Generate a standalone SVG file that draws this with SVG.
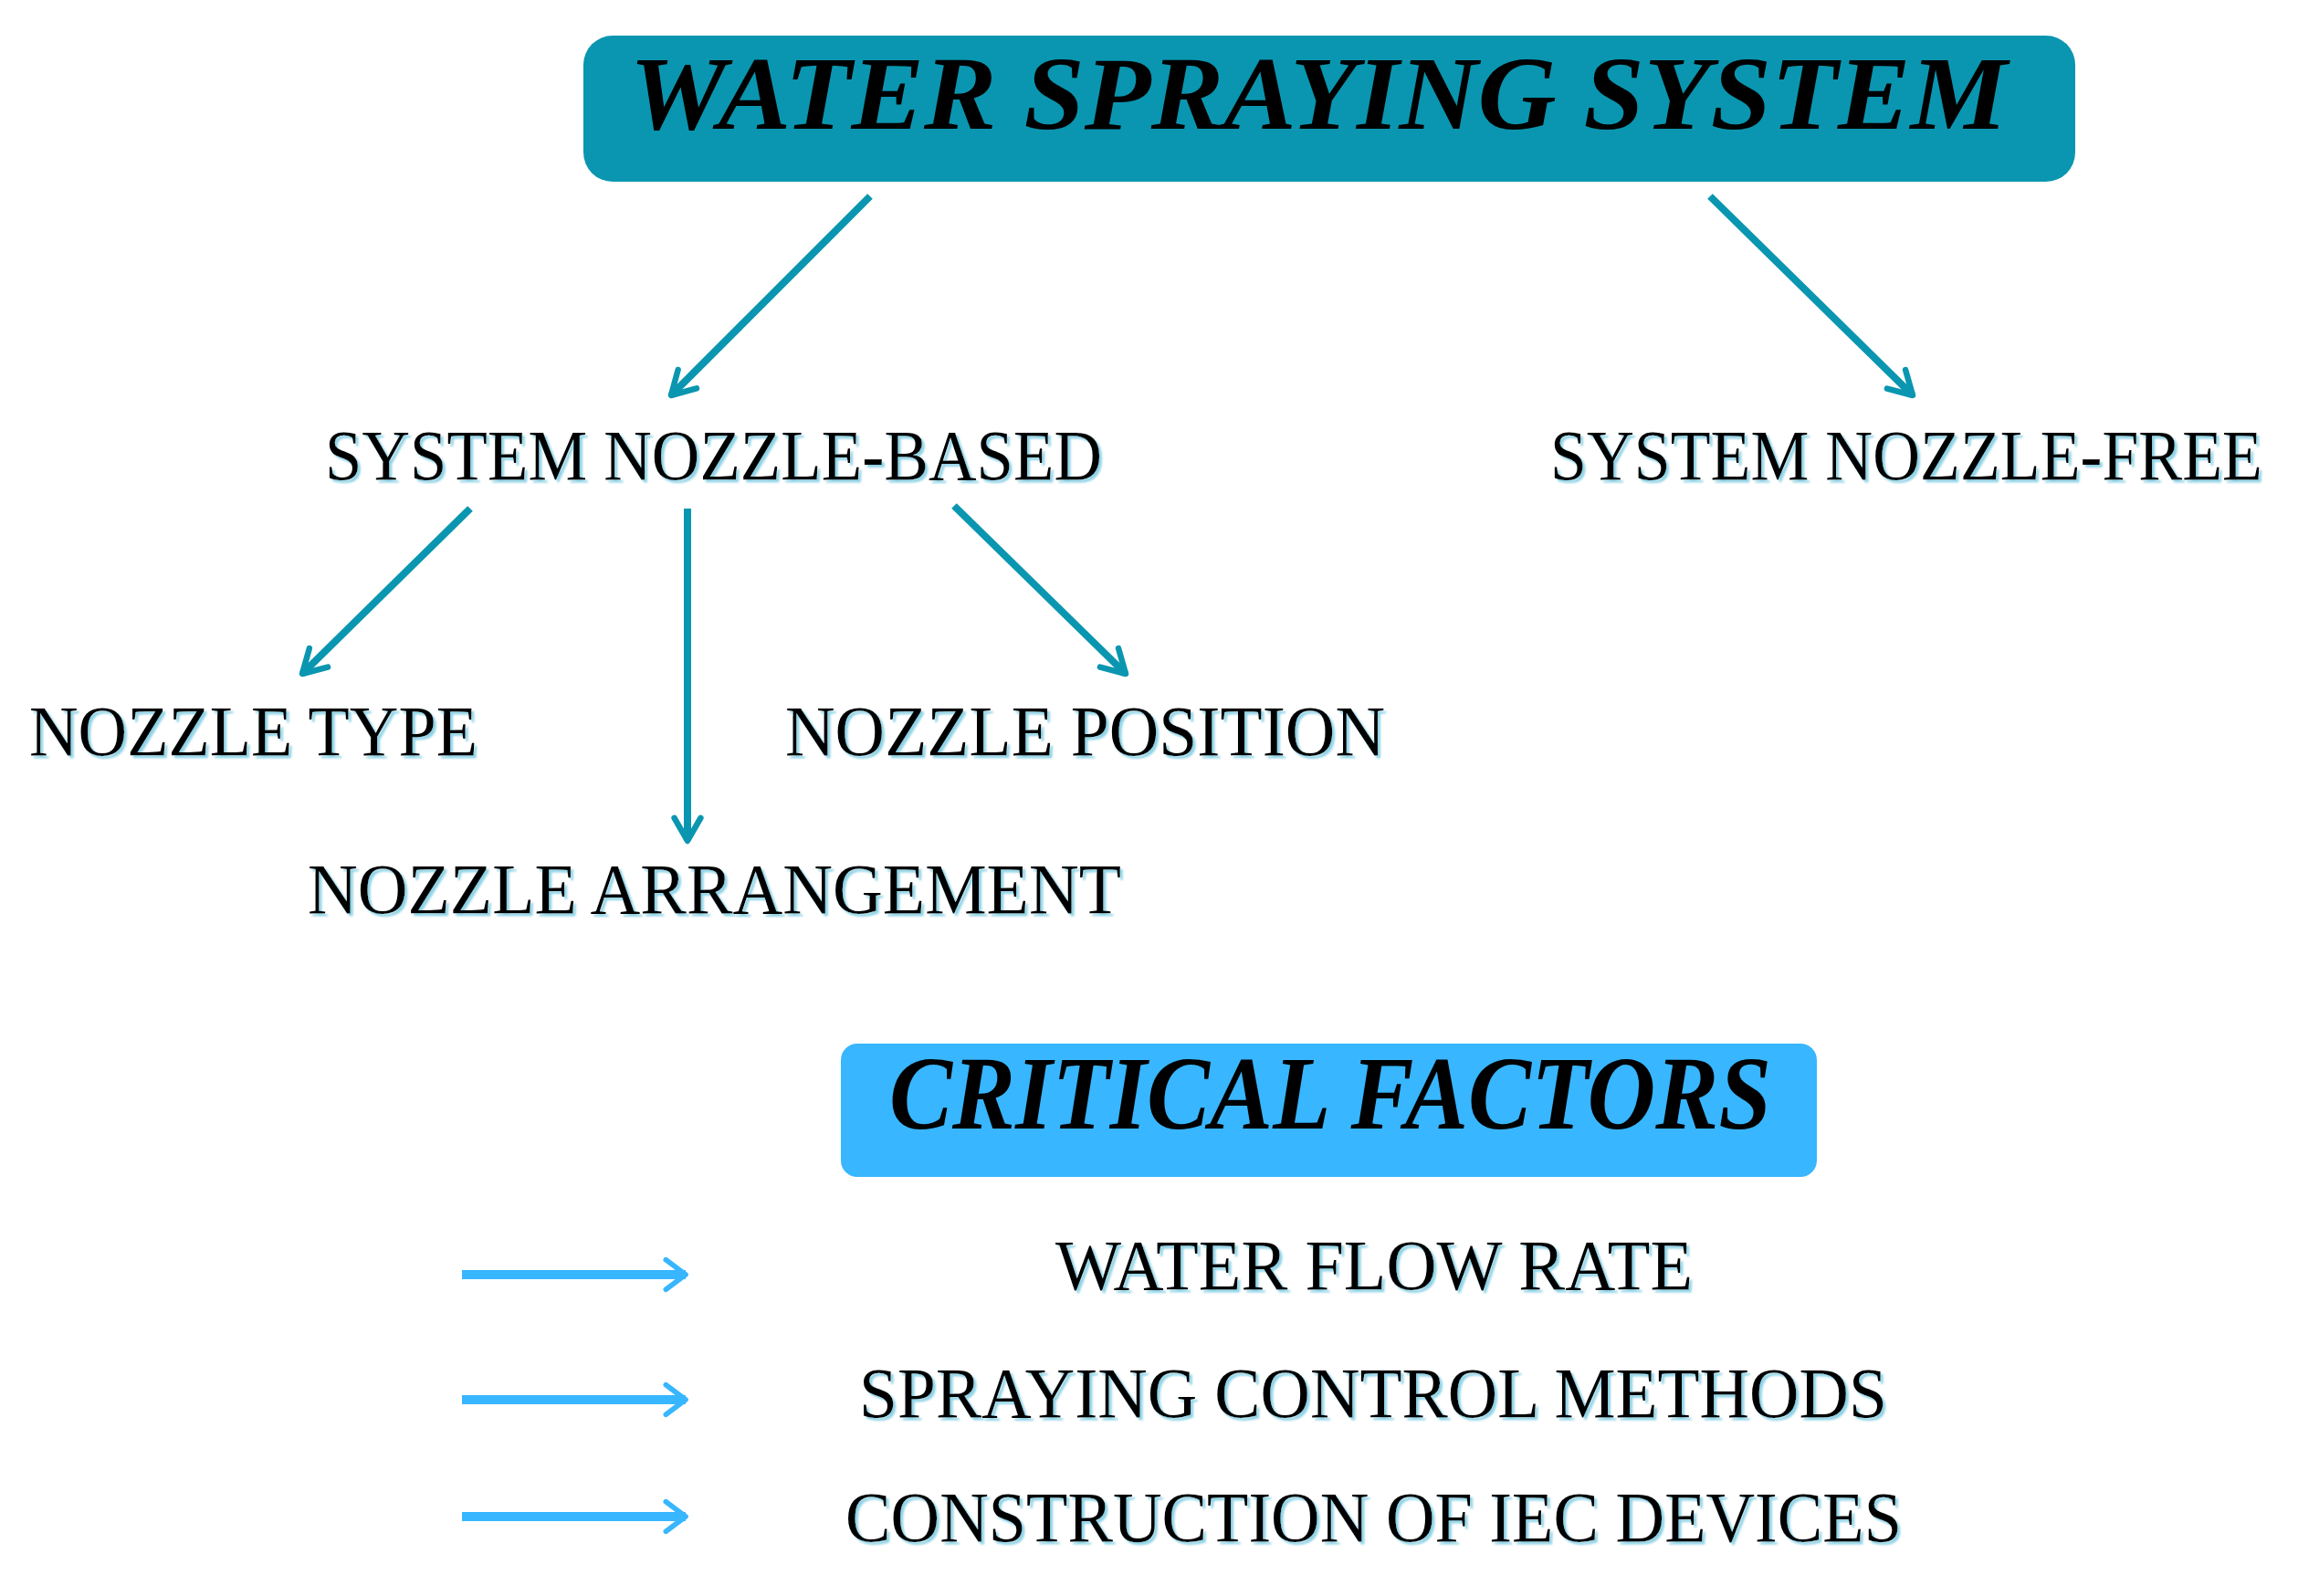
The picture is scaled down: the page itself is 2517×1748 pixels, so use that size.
<svg xmlns="http://www.w3.org/2000/svg" width="2517" height="1748" viewBox="0 0 2517 1748">
<defs>
<style>
.t{font-family:"Liberation Serif","DejaVu Serif",serif;font-size:78px;fill:#000;filter:url(#sh)}
.h{font-family:"Liberation Serif","DejaVu Serif",serif;font-size:114px;font-style:italic;font-weight:bold;fill:#000}
.c{stroke:#0a96b0;stroke-width:8;fill:none;marker-end:url(#ah)}
.l{stroke:#38b6ff;stroke-width:10;fill:none;marker-end:url(#al)}
</style>
<filter id="sh" x="-3%" y="-20%" width="106%" height="140%"><feDropShadow dx="3" dy="3" stdDeviation="1" flood-color="#8fd3e6"/></filter>
<marker id="ah" viewBox="0 0 10 10" refX="9" refY="5" markerWidth="4.5" markerHeight="4.5" orient="auto" markerUnits="strokeWidth"><path d="M2,1 L9,5 L2,9" fill="none" stroke="#0a96b0" stroke-width="1.8" stroke-linecap="round" stroke-linejoin="round"/></marker>
<marker id="al" viewBox="0 0 10 10" refX="9" refY="5" markerWidth="3.6" markerHeight="5.4" orient="auto" markerUnits="strokeWidth"><path d="M3,0.5 L9,5 L3,9.5" fill="none" stroke="#38b6ff" stroke-width="1.6" stroke-linecap="round" stroke-linejoin="round"/></marker>
</defs>
<rect width="2517" height="1748" fill="#fff"/>
<g id="title"><rect x="639" y="39" width="1634" height="160" rx="32" fill="#0a96b0"/><text class="h" x="1444" y="141" text-anchor="middle" textLength="1509" lengthAdjust="spacingAndGlyphs">WATER SPRAYING SYSTEM</text></g>
<g id="nb"><text class="t" x="356" y="525" textLength="851" lengthAdjust="spacingAndGlyphs">SYSTEM NOZZLE-BASED</text></g>
<g id="nf"><text class="t" x="1698" y="525" textLength="780" lengthAdjust="spacingAndGlyphs">SYSTEM NOZZLE-FREE</text></g>
<g id="type"><text class="t" x="32" y="827" textLength="491" lengthAdjust="spacingAndGlyphs">NOZZLE TYPE</text></g>
<g id="pos"><text class="t" x="860" y="827" textLength="657" lengthAdjust="spacingAndGlyphs">NOZZLE POSITION</text></g>
<g id="arr"><text class="t" x="337" y="1000" textLength="891" lengthAdjust="spacingAndGlyphs">NOZZLE ARRANGEMENT</text></g>
<g id="crit"><rect x="921" y="1143" width="1069" height="146" rx="18" fill="#38b6ff"/><text class="h" x="1457" y="1236" text-anchor="middle" textLength="966" lengthAdjust="spacingAndGlyphs">CRITICAL FACTORS</text></g>
<g id="f1"><text class="t" x="1156" y="1412" textLength="698" lengthAdjust="spacingAndGlyphs">WATER FLOW RATE</text></g>
<g id="f2"><text class="t" x="941" y="1552" textLength="1126" lengthAdjust="spacingAndGlyphs">SPRAYING CONTROL METHODS</text></g>
<g id="f3"><text class="t" x="926" y="1688" textLength="1157" lengthAdjust="spacingAndGlyphs">CONSTRUCTION OF IEC DEVICES</text></g>
<g id="connectors">
<line class="c" x1="953" y1="215" x2="735" y2="433"/>
<line class="c" x1="1873" y1="215" x2="2095" y2="433"/>
<line class="c" x1="515" y1="557" x2="331" y2="738"/>
<line class="c" x1="753" y1="557" x2="753" y2="921"/>
<line class="c" x1="1045" y1="554" x2="1233" y2="738"/>
<line class="l" x1="506" y1="1396" x2="751" y2="1396"/>
<line class="l" x1="506" y1="1533" x2="751" y2="1533"/>
<line class="l" x1="506" y1="1661" x2="751" y2="1661"/>
</g>
</svg>
